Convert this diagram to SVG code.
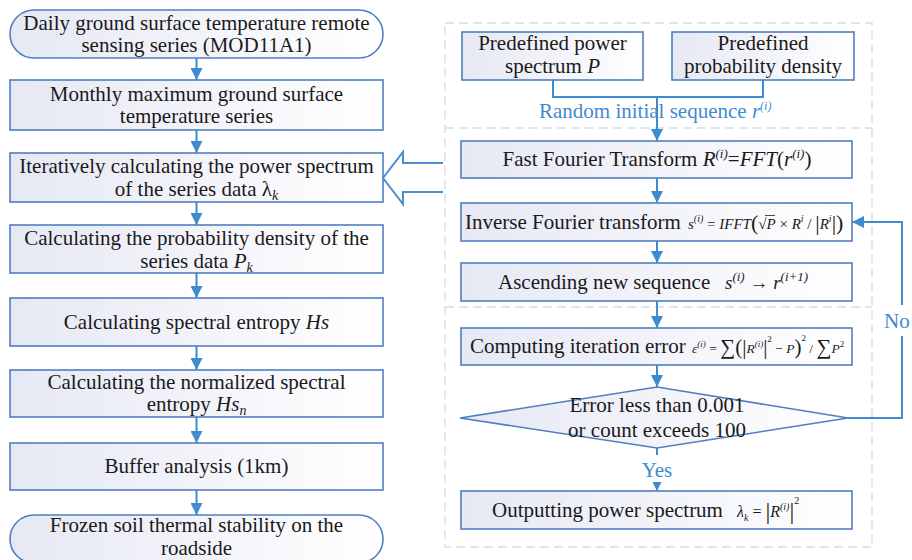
<svg xmlns="http://www.w3.org/2000/svg" width="912" height="560" viewBox="0 0 912 560">
<defs>
  <linearGradient id="boxfill" x1="0" y1="0" x2="1" y2="0">
    <stop offset="0" stop-color="#e6e8f4"/>
    <stop offset="1" stop-color="#ffffff"/>
  </linearGradient>
  <marker id="arr" viewBox="0 0 12 12" markerUnits="userSpaceOnUse" markerWidth="14" markerHeight="12" refX="12" refY="6" orient="auto">
    <path d="M0,0 L12,6 L0,12 z" fill="#3f8bd0"/>
  </marker>
  <marker id="arrs" viewBox="0 0 12 12" markerUnits="userSpaceOnUse" markerWidth="10" markerHeight="9" refX="12" refY="6" orient="auto">
    <path d="M0,0 L12,6 L0,12 z" fill="#3f8bd0"/>
  </marker>
</defs>
<style>
  text { font-family: 'Liberation Serif', 'Times New Roman', serif; }
  .box { fill: url(#boxfill); stroke: #4f7fc0; stroke-width: 1.6; }
  .t { font-size: 21px; fill: #1a1a1a; text-anchor: middle; }
  .tl { font-size: 21px; fill: #1a1a1a; }
  .f { fill: #1a1a1a; }
  .lbl { font-size: 21px; fill: #3f8bd0; }
  .i { font-style: italic; }
  .con { stroke: #3f8bd0; stroke-width: 2; fill: none; }
  .dash { stroke: #d5dce8; stroke-width: 1.3; stroke-dasharray: 9 5; fill: none; }
</style>
<rect width="912" height="560" fill="#ffffff"/>

<!-- dashed frame on the right -->
<g id="frame">
  <rect class="dash" x="445" y="23" width="427" height="524"/>
  <line class="dash" x1="445" y1="128" x2="872" y2="128"/>
  <line class="dash" x1="445" y1="307" x2="872" y2="307"/>
</g>

<!-- left column -->
<g id="n_daily">
  <rect class="box" x="10" y="10" width="373" height="48" rx="24" ry="24"/>
  <text class="t" x="196.5" y="30">Daily ground surface temperature remote</text>
  <text class="t" x="196.5" y="52">sensing series (MOD11A1)</text>
</g>
<g id="n_monthly">
  <rect class="box" x="10" y="80" width="373" height="50"/>
  <text class="t" x="196.5" y="101">Monthly maximum ground surface</text>
  <text class="t" x="196.5" y="123">temperature series</text>
</g>
<g id="n_power">
  <rect class="box" x="10" y="153" width="373" height="49"/>
  <text class="t" x="196.5" y="173">Iteratively calculating the power spectrum</text>
  <text class="t" x="196.5" y="196">of the series data λ<tspan class="i" font-size="14" dy="4">k</tspan></text>
</g>
<g id="n_prob">
  <rect class="box" x="10" y="225" width="373" height="48"/>
  <text class="t" x="196.5" y="245">Calculating the probability density of the</text>
  <text class="t" x="196.5" y="268">series data <tspan class="i">P</tspan><tspan class="i" font-size="14" dy="4">k</tspan></text>
</g>
<g id="n_entropy">
  <rect class="box" x="10" y="298" width="373" height="48"/>
  <text class="t" x="196.5" y="329">Calculating spectral entropy <tspan class="i">Hs</tspan></text>
</g>
<g id="n_norm">
  <rect class="box" x="10" y="370" width="373" height="47"/>
  <text class="t" x="196.5" y="389">Calculating the normalized spectral</text>
  <text class="t" x="196.5" y="411">entropy <tspan class="i">Hs</tspan><tspan class="i" font-size="14" dy="4">n</tspan></text>
</g>
<g id="n_buffer">
  <rect class="box" x="10" y="443" width="373" height="47"/>
  <text class="t" x="196.5" y="473">Buffer analysis (1km)</text>
</g>
<g id="n_frozen">
  <rect class="box" x="10" y="515" width="373" height="48" rx="24" ry="24"/>
  <text class="t" x="196.5" y="532">Frozen soil thermal stability on the</text>
  <text class="t" x="196.5" y="555">roadside</text>
</g>

<!-- right column -->
<g id="n_predP">
  <rect class="box" x="462" y="32" width="181" height="48"/>
  <text class="t" x="552.5" y="50">Predefined power</text>
  <text class="t" x="552.5" y="73">spectrum <tspan class="i">P</tspan></text>
</g>
<g id="n_predD">
  <rect class="box" x="672" y="32" width="182" height="48"/>
  <text class="t" x="763" y="50">Predefined</text>
  <text class="t" x="763" y="73">probability density</text>
</g>
<g id="n_fft">
  <rect class="box" x="461" y="141" width="391" height="37"/>
  <text class="t" x="657" y="166">Fast Fourier Transform <tspan class="i">R</tspan><tspan class="i" font-size="13" dy="-8">(i)</tspan><tspan dy="8">=</tspan><tspan class="i">FFT</tspan>(<tspan class="i">r</tspan><tspan class="i" font-size="13" dy="-8">(i)</tspan><tspan dy="8">)</tspan></text>
</g>
<g id="n_ifft">
  <rect class="box" x="461" y="203" width="391" height="38"/>
  <text class="tl" x="465" y="229">Inverse Fourier transform</text>
  <text class="f" x="688" y="229" font-size="15"><tspan class="i">s</tspan><tspan class="i" font-size="10" dy="-7">(i)</tspan><tspan dy="7"> = </tspan><tspan class="i">IFFT</tspan><tspan font-size="22" dy="1">(</tspan><tspan dy="-1">√</tspan><tspan class="i">P</tspan> × <tspan class="i">R</tspan><tspan class="i" font-size="10" dy="-7">i</tspan><tspan dy="7"> / </tspan><tspan font-size="22" dy="1">|</tspan><tspan class="i" dy="-1">R</tspan><tspan class="i" font-size="10" dy="-7">i</tspan><tspan font-size="22" dy="8">|)</tspan></text>
  <line x1="765" y1="215.5" x2="775" y2="215.5" stroke="#1a1a1a" stroke-width="0.8"/>
</g>
<g id="n_asc">
  <rect class="box" x="461" y="263" width="391" height="38"/>
  <text class="tl" x="498" y="289">Ascending new sequence</text>
  <text class="f" x="725" y="289" font-size="19"><tspan class="i">s</tspan><tspan class="i" font-size="13" dy="-8">(i)</tspan><tspan dy="8"> → </tspan><tspan class="i">r</tspan><tspan class="i" font-size="13" dy="-8">(i+1)</tspan></text>
</g>
<g id="n_err">
  <rect class="box" x="461" y="328" width="391" height="37"/>
  <text class="tl" x="470" y="353">Computing iteration error</text>
  <text class="f" x="692" y="353" font-size="13.5"><tspan class="i">ε</tspan><tspan class="i" font-size="9" dy="-6">(i)</tspan><tspan dy="6"> = </tspan><tspan font-size="21" dy="1">∑</tspan><tspan font-size="21">(|</tspan><tspan class="i" dy="-1">R</tspan><tspan class="i" font-size="9" dy="-6">(i)</tspan><tspan font-size="21" dy="7">|</tspan><tspan font-size="9" dy="-12">2</tspan><tspan dy="11"> − </tspan><tspan class="i">P</tspan><tspan font-size="21" dy="1">)</tspan><tspan font-size="9" dy="-13">2</tspan><tspan dy="12"> / </tspan><tspan font-size="21" dy="1">∑</tspan><tspan class="i" dy="-1">P</tspan><tspan font-size="9" dy="-6">2</tspan></text>
</g>
<g id="n_dec">
  <polygon points="657,387 848,418 657,448 460,418" fill="url(#boxfill)" stroke="#4f7fc0" stroke-width="1.6"/>
  <text class="t" x="657" y="412">Error less than 0.001</text>
  <text class="t" x="657" y="437">or count exceeds 100</text>
</g>
<g id="n_out">
  <rect class="box" x="461" y="491" width="391" height="38"/>
  <text class="tl" x="492" y="517">Outputting power spectrum</text>
  <text class="f" x="737" y="517" font-size="16"><tspan class="i">λ</tspan><tspan class="i" font-size="10" dy="4">k</tspan><tspan dy="-4"> = </tspan><tspan font-size="24" dy="2">|</tspan><tspan class="i" dy="-2">R</tspan><tspan class="i" font-size="10" dy="-7">(i)</tspan><tspan font-size="24" dy="9">|</tspan><tspan font-size="10" dy="-15">2</tspan></text>
</g>

<!-- connectors -->
<g id="connectors">
  <line class="con" x1="196.5" y1="58" x2="196.5" y2="80" marker-end="url(#arr)"/>
  <line class="con" x1="196.5" y1="130" x2="196.5" y2="153" marker-end="url(#arr)"/>
  <line class="con" x1="196.5" y1="202" x2="196.5" y2="225" marker-end="url(#arr)"/>
  <line class="con" x1="196.5" y1="273" x2="196.5" y2="298" marker-end="url(#arr)"/>
  <line class="con" x1="196.5" y1="346" x2="196.5" y2="370" marker-end="url(#arr)"/>
  <line class="con" x1="196.5" y1="417" x2="196.5" y2="443" marker-end="url(#arr)"/>
  <line class="con" x1="196.5" y1="490" x2="196.5" y2="515" marker-end="url(#arr)"/>

  <path class="con" d="M553,80 V97 H763 V80"/>
  <line class="con" x1="657" y1="97" x2="657" y2="141" marker-end="url(#arr)"/>
  <line class="con" x1="657" y1="178" x2="657" y2="203" marker-end="url(#arr)"/>
  <line class="con" x1="657" y1="241" x2="657" y2="263" marker-end="url(#arr)"/>
  <line class="con" x1="657" y1="301" x2="657" y2="328" marker-end="url(#arr)"/>
  <line class="con" x1="657" y1="365" x2="657" y2="387" marker-end="url(#arr)"/>

  <path class="con" d="M848,418 H902 V336"/>
  <path class="con" d="M902,305 V222 H852" marker-end="url(#arr)"/>

  <line class="con" x1="657" y1="448" x2="657" y2="455"/>
  <line class="con" x1="657" y1="482" x2="657" y2="491" marker-end="url(#arrs)"/>

  <polyline points="443,163 403,163 403,152 383,178 403,204 403,192 443,192" fill="#ffffff" stroke="#4a8fd0" stroke-width="2"/>

  <text class="lbl" x="539" y="118" font-size="18">Random initial sequence <tspan class="i">r</tspan><tspan class="i" font-size="12" dy="-8">(i)</tspan></text>
  <text class="lbl" x="884" y="328">No</text>
  <text class="lbl" x="657" y="477" text-anchor="middle">Yes</text>
</g>
</svg>
